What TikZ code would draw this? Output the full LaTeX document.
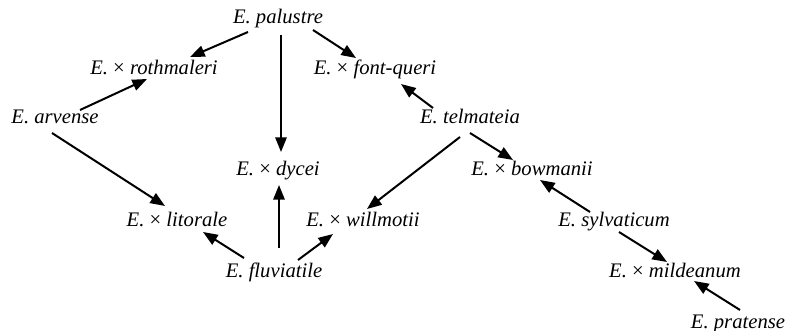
\documentclass[tikz,border=0pt]{standalone}
\usepackage{fontspec}
\setmainfont{Liberation Serif}
\usetikzlibrary{calc,arrows.meta}

\begin{document}
\begin{tikzpicture}[
  x=0.75pt, y=-0.75pt,
  sp/.style={font=\fontsize{15.5}{18}\selectfont\itshape, inner sep=0pt,
             text height=11pt, text depth=3.5pt},
  arr/.style={-{Triangle[length=11pt,width=8.5pt]}, line width=1.5pt}
]
\useasboundingbox (0,0) rectangle (795,331);

% parents and hybrids
\node[sp] (pal)  at (278,19)  {E. palustre};
\node[sp] (roth) at (154,70)  {E. {\upshape ×} rothmaleri};
\node[sp] (fq)   at (375,70)  {E. {\upshape ×} font-queri};
\node[sp] (arv)  at (55,119)  {E. arvense};
\node[sp] (tel)  at (470,119) {E. telmateia};
\node[sp] (dyc)  at (278,171) {E. {\upshape ×} dycei};
\node[sp] (bow)  at (532,171) {E. {\upshape ×} bowmanii};
\node[sp] (lit)  at (177,222) {E. {\upshape ×} litorale};
\node[sp] (will) at (363,222) {E. {\upshape ×} willmotii};
\node[sp] (syl)  at (614,222) {E. sylvaticum};
\node[sp] (flu)  at (274,272) {E. fluviatile};
\node[sp] (mild) at (675,272) {E. {\upshape ×} mildeanum};
\node[sp] (prat) at (738,323) {E. pratense};

% E. palustre
\draw[arr] ($(pal)+(-30,13)$) -- ($(roth)+(36,-13)$);
\draw[arr] ($(pal)+(3,16)$)   -- ($(dyc)+(3,-19)$);
\draw[arr] ($(pal)+(35,11)$)  -- ($(fq)+(-19,-12)$);

% E. arvense
\draw[arr] ($(arv)+(25,-9)$) -- ($(roth)+(-7,9)$);
\draw[arr] ($(arv)+(-3,14)$) -- ($(lit)+(-12,-16)$);

% E. telmateia
\draw[arr] ($(tel)+(-37,-11)$) -- ($(fq)+(26,14)$);
\draw[arr] ($(tel)+(0,14)$)    -- ($(bow)+(-19,-11)$);
\draw[arr] ($(tel)+(-10,18)$)  -- ($(will)+(4,-13)$);

% E. fluviatile
\draw[arr] ($(flu)+(5,-24)$)   -- ($(dyc)+(1,14)$);
\draw[arr] ($(flu)+(-30,-14)$) -- ($(lit)+(26,10)$);
\draw[arr] ($(flu)+(24,-12)$)  -- ($(will)+(-30,12)$);

% E. sylvaticum, E. pratense
\draw[arr] ($(syl)+(-24,-10)$) -- ($(bow)+(8,9)$);
\draw[arr] ($(syl)+(5,10)$)    -- ($(mild)+(-8,-10)$);
\draw[arr] ($(prat)+(2,-13)$)  -- ($(mild)+(19,9)$);

\end{tikzpicture}
\end{document}
